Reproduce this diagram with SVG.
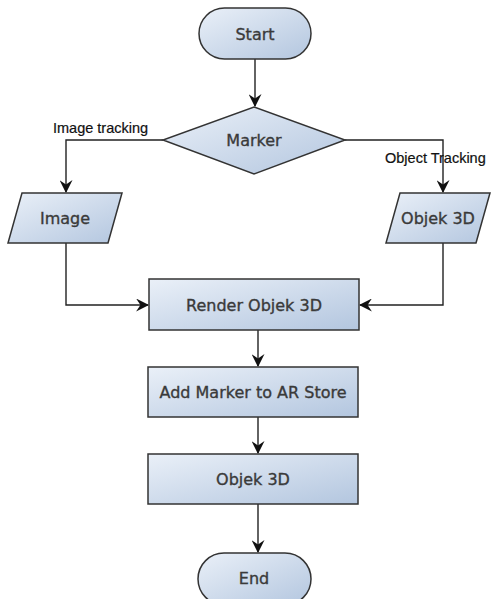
<svg xmlns="http://www.w3.org/2000/svg" width="493" height="599" viewBox="0 0 493 599">
<defs>
<linearGradient id="g" x1="0" y1="0" x2="1" y2="1">
<stop offset="0" stop-color="#eaf0f8"/>
<stop offset="1" stop-color="#b3c6df"/>
</linearGradient>
<marker id="ah" markerWidth="13" markerHeight="13" viewBox="0 0 12 12" refX="11" refY="6" orient="auto" markerUnits="userSpaceOnUse">
<path d="M0,0 L12,6 L0,12 L4,6 Z" fill="#111"/>
</marker>
<style>
.n{fill:url(#g);stroke:#333;stroke-width:1.5}
.t{font-family:"DejaVu Sans",sans-serif;font-size:16px;fill:#3a3a3a;stroke:#3a3a3a;stroke-width:0.35;text-anchor:middle;dominant-baseline:central}
.l{font-family:"Liberation Sans",Arial,sans-serif;font-size:14.5px;fill:#111;stroke:#111;stroke-width:0.2}
.c{fill:none;stroke:#222;stroke-width:1.4;marker-end:url(#ah)}
</style>
</defs>
<g id="connectors">
<path class="c" d="M255,59 V106"/>
<path class="c" d="M163,140 H66 V192"/>
<path class="c" d="M345,140 H443 V192"/>
<path class="c" d="M66,243 V305 H148"/>
<path class="c" d="M443,243 V305 H360"/>
<path class="c" d="M258,330 V366"/>
<path class="c" d="M258,417 V453"/>
<path class="c" d="M258,504 V552"/>
</g>
<g id="start"><rect class="n" x="199" y="8" width="112" height="51" rx="25.5"/><text class="t" x="255" y="34">Start</text></g>
<g id="marker"><polygon class="n" points="254,107 345,140 254,174 163,140"/><text class="t" x="254" y="140">Marker</text></g>
<g id="image"><polygon class="n" points="22,193 122,193 108,243 8,243"/><text class="t" x="65" y="218">Image</text></g>
<g id="objek3d-in"><polygon class="n" points="400,193 490,193 476,243 386,243"/><text class="t" x="438" y="218">Objek 3D</text></g>
<g id="render"><rect class="n" x="149" y="279" width="210" height="51"/><text class="t" x="254" y="305">Render Objek 3D</text></g>
<g id="add"><rect class="n" x="148" y="367" width="210" height="50"/><text class="t" x="253" y="392">Add Marker to AR Store</text></g>
<g id="objek3d"><rect class="n" x="148" y="454" width="210" height="50"/><text class="t" x="253" y="479">Objek 3D</text></g>
<g id="end"><rect class="n" x="198" y="553" width="113" height="52" rx="26"/><text class="t" x="254" y="578">End</text></g>
<g id="labels">
<text class="l" x="53" y="133">Image tracking</text>
<text class="l" x="385" y="163">Object Tracking</text>
</g>
</svg>
